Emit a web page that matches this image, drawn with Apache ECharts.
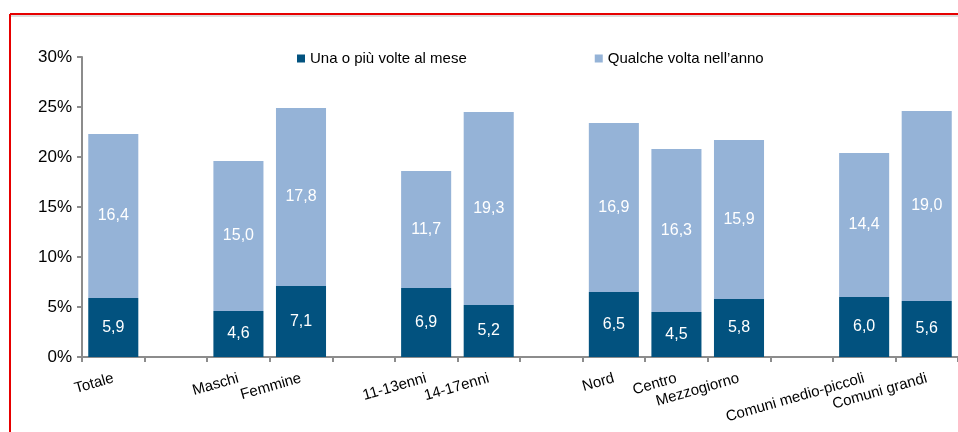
<!DOCTYPE html>
<html>
<head>
<meta charset="utf-8">
<script src="https://cdn.jsdelivr.net/npm/echarts@6/dist/echarts.min.js"></script>
<style>
  html, body { margin: 0; padding: 0; background: #fff; }
  #chart { width: 958px; height: 432px; }
</style>
</head>
<body>
<div id="chart"></div>
<script>
// categories (empty strings are the gaps between groups)
const categories = ["Totale", "", "Maschi", "Femmine", "", "11-13enni", "14-17enni", "",
  "Nord", "Centro", "Mezzogiorno", "", "Comuni medio-piccoli", "Comuni grandi"];
const mensile = [5.9, "-", 4.6, 7.1, "-", 6.9, 5.2, "-", 6.5, 4.5, 5.8, "-", 6.0, 5.6];
const annuale = [16.4, "-", 15.0, 17.8, "-", 11.7, 19.3, "-", 16.9, 16.3, 15.9, "-", 14.4, 19.0];
const seriesNames = ["Una o più volte al mese", "Qualche volta nell\u2019anno"];
const yTicks = [0, 5, 10, 15, 20, 25, 30];

const colorDark = "#02527f";
const colorLight = "#95b3d7";
const font = "Liberation Sans, Arial, sans-serif";

const valueLabel = {
  show: true,
  position: "inside",
  color: "#fff",
  fontSize: 16,
  fontFamily: font,
  formatter: function (p) {
    return Number(p.value).toFixed(1).replace(".", ",");
  }
};

const chart = echarts.init(document.getElementById("chart"));
chart.setOption({
  animation: false,
  textStyle: { fontFamily: font },
  legend: {
    left: 292,
    top: 46,
    itemWidth: 8,
    itemHeight: 8,
    itemGap: 128,
    icon: "rect",
    textStyle: { fontSize: 15, color: "#000", fontFamily: font },
    data: seriesNames
  },
  graphic: [
    { type: "line", shape: { x1: 10, y1: 14, x2: 958, y2: 14 }, style: { stroke: "#e60000", lineWidth: 2 } },
    { type: "line", shape: { x1: 10, y1: 16, x2: 958, y2: 16 }, style: { stroke: "#bbbbbb", lineWidth: 1 } },
    { type: "line", shape: { x1: 10, y1: 14, x2: 10, y2: 432 }, style: { stroke: "#e60000", lineWidth: 2 } }
  ],
  grid: { left: 82, top: 57, width: 878, height: 300, containLabel: false },
  xAxis: {
    type: "category",
    data: categories,
    axisLine: { lineStyle: { color: "#8c8c8c", width: 2 } },
    axisTick: { show: true, length: 5, alignWithLabel: false, lineStyle: { color: "#8c8c8c", width: 2 } },
    axisLabel: {
      interval: 0,
      rotate: 16,
      margin: 21,
      color: "#000",
      fontSize: 15,
      fontFamily: font
    }
  },
  yAxis: {
    type: "value",
    min: yTicks[0],
    max: yTicks[yTicks.length - 1],
    interval: 5,
    splitLine: { show: false },
    axisLine: { show: true, lineStyle: { color: "#8c8c8c", width: 2 } },
    axisTick: { show: true, length: 5, lineStyle: { color: "#8c8c8c", width: 2 } },
    axisLabel: {
      formatter: "{value}%",
      color: "#000",
      fontSize: 17,
      margin: 10,
      fontFamily: font
    }
  },
  series: [
    {
      name: seriesNames[0],
      type: "bar",
      stack: "tot",
      barWidth: "80%",
      itemStyle: { color: colorDark },
      label: valueLabel,
      data: mensile
    },
    {
      name: seriesNames[1],
      type: "bar",
      stack: "tot",
      barWidth: "80%",
      itemStyle: { color: colorLight },
      label: valueLabel,
      data: annuale
    }
  ]
});
</script>
</body>
</html>
